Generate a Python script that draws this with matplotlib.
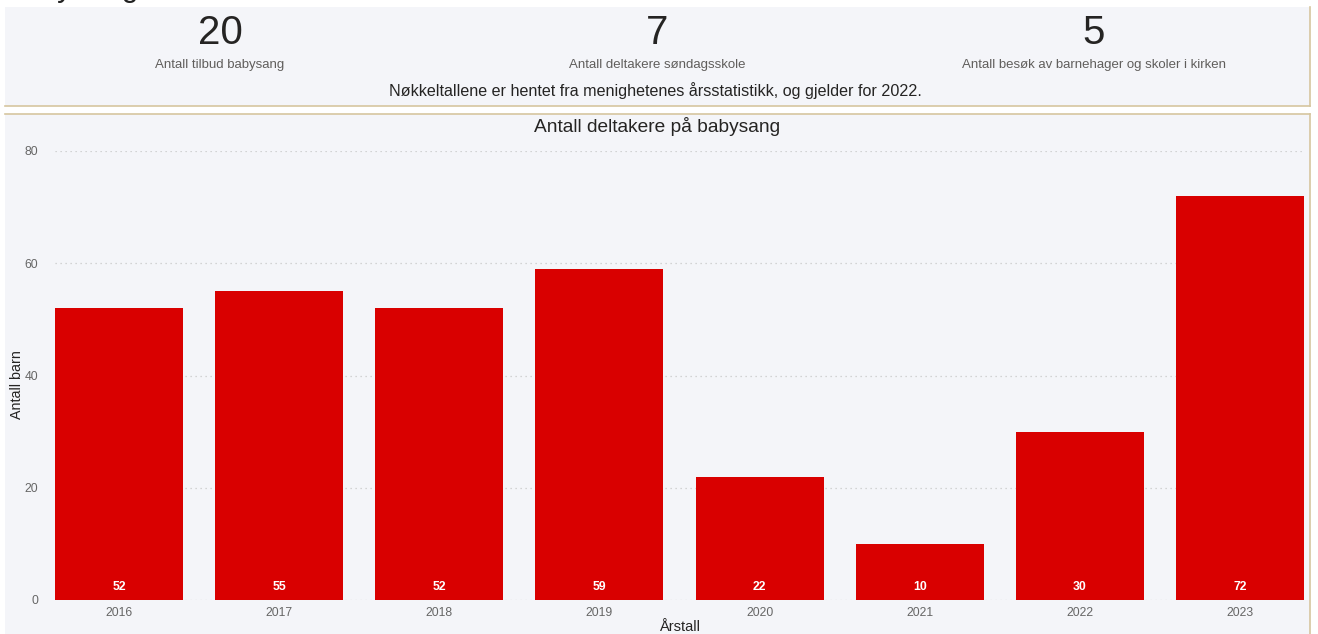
import matplotlib
matplotlib.use("Agg")
import matplotlib.pyplot as plt
from matplotlib.patches import Rectangle
from matplotlib.lines import Line2D

plt.rcParams['font.family'] = ['Liberation Sans', 'DejaVu Sans']

years = ["2016", "2017", "2018", "2019", "2020", "2021", "2022", "2023"]
participants = [52, 55, 52, 59, 22, 10, 30, 72]
kpi_values = ["20", "7", "5"]
kpi_labels = ["Antall tilbud babysang", "Antall deltakere søndagsskole",
              "Antall besøk av barnehager og skoler i kirken"]
kpi_note = "Nøkkeltallene er hentet fra menighetenes årsstatistikk, og gjelder for 2022."
chart_title = "Antall deltakere på babysang"
y_label = "Antall barn"
x_label = "Årstall"
y_ticks = [0, 20, 40, 60, 80]

W, H = 1318, 634
fig = plt.figure(figsize=(W / 100, H / 100), dpi=100)
fig.patch.set_facecolor("white")

def fx(x):
    return x / W

def fy(y):
    return 1 - y / H

panel_bg = "#f4f5f9"
tan = "#d6c6a0"

# top KPI panel
fig.add_artist(Rectangle((fx(5), fy(106)), fx(1305), (106 - 7) / H,
                         facecolor=panel_bg, edgecolor="none", transform=fig.transFigure, zorder=0))
fig.add_artist(Line2D([fx(5), fx(1310)], [fy(106), fy(106)], color=tan, lw=1.2, transform=fig.transFigure))
fig.add_artist(Line2D([fx(1310), fx(1310)], [fy(7), fy(106)], color=tan, lw=1.2, transform=fig.transFigure))

# chart panel
fig.add_artist(Rectangle((fx(5), 0), fx(1305), (634 - 114) / H,
                         facecolor=panel_bg, edgecolor="none", transform=fig.transFigure, zorder=0))
fig.add_artist(Line2D([fx(5), fx(1310)], [fy(114), fy(114)], color=tan, lw=1.2, transform=fig.transFigure))
fig.add_artist(Line2D([fx(1310), fx(1310)], [fy(114), 0], color=tan, lw=1.2, transform=fig.transFigure))

# cut-off page heading (only descenders visible at the top edge)
fig.text(fx(4), fy(-4), "Babysang", fontsize=22, color="#222222", ha="left", va="baseline", zorder=5)

kpi_x = [220, 657, 1094]
for x, v, lab in zip(kpi_x, kpi_values, kpi_labels):
    fig.text(fx(x), fy(33), v, fontsize=29, color="#252423", ha="center", va="center")
    fig.text(fx(x), fy(65), lab, fontsize=9.5, color="#605e5c", ha="center", va="center")
fig.text(fx(655), fy(91), kpi_note, fontsize=11.6, color="#252423", ha="center", va="center")

# chart
ax = fig.add_axes([fx(55), fy(600), fx(1304 - 55), (600 - 151) / H])
ax.set_facecolor("none")
xs = range(len(years))
ax.bar(xs, participants, width=0.8, color="#d90000", zorder=3)
for x, v in zip(xs, participants):
    ax.text(x, 2.4, str(v), ha="center", va="center", color="white",
            fontsize=8.8, fontweight="bold", zorder=4)
ax.set_xlim(-0.4, len(years) - 0.6)
ax.set_ylim(0, 80)
ax.set_yticks(y_ticks)
ax.set_xticks(list(xs))
ax.set_xticklabels(years)
ax.tick_params(axis="both", length=0, labelsize=8.7, labelcolor="#666666")
ax.tick_params(axis="y", pad=12)
ax.tick_params(axis="x", pad=5)
for s in ax.spines.values():
    s.set_visible(False)
ax.grid(axis="y", color="#c8c8c8", linestyle=(0, (1, 3)), lw=0.9, zorder=0)
ax.set_axisbelow(True)

fig.text(fx(657), fy(127), chart_title, fontsize=13.8, color="#252423", ha="center", va="center")
fig.text(fx(17), fy(385), y_label, fontsize=10.3, color="#252423", ha="center", va="center", rotation=90)
fig.text(fx(680), fy(627), x_label, fontsize=10.5, color="#252423", ha="center", va="center")

fig.savefig("out.png", dpi=100, facecolor=fig.get_facecolor())
